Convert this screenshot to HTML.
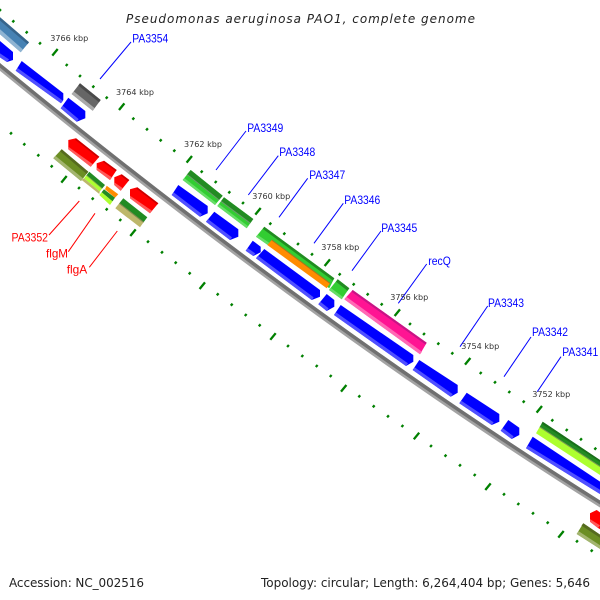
<!DOCTYPE html>
<html><head><meta charset="utf-8"><style>html,body{margin:0;padding:0;background:#fff}svg{display:block}</style></head><body>
<svg width="600" height="600" viewBox="0 0 600 600" xmlns="http://www.w3.org/2000/svg">
<rect width="600" height="600" fill="#fff"/>
<!-- backbone -->
<path d="M-8,60.5 L0,67 C200,231 400,378 600,504 L608,509" fill="none" stroke="#a3a3a3" stroke-width="6"/>
<path d="M-7.4,59.3 L0.6,65.8 C200.6,229.8 400.6,376.8 600.6,502.8 L608.6,507.8" fill="none" stroke="#707070" stroke-width="3.5"/>
<!-- ticks small -->
<path fill="none" stroke="#008000" stroke-width="2.3" d="M-0.9,11.2 l1.8,-2M12.4,22.3 l1.8,-2M25.8,33.3 l1.8,-2M39.1,44.3 l1.8,-2M65.8,66 l1.8,-2M79.1,77 l1.8,-2M92.4,87.7 l1.8,-2M105.8,98.7 l1.8,-2M132.4,119.7 l1.8,-2M146.1,130.3 l1.8,-2M159.8,141.3 l1.8,-2M173.4,151.7 l1.8,-2M200.8,172.7 l1.8,-2M214.8,183 l1.8,-2M228.4,193.3 l1.8,-2M242.1,204 l1.8,-2M269.4,224.7 l1.8,-2M283.4,234.7 l1.8,-2M297.1,245 l1.8,-2M311.1,255.3 l1.8,-2M338.8,275.3 l1.8,-2M352.8,285.3 l1.8,-2M366.8,295.3 l1.8,-2M380.8,305.3 l1.8,-2M409.1,325 l1.8,-2M423.1,335 l1.8,-2M437.4,344.7 l1.8,-2M451.4,354.3 l1.8,-2M479.8,374 l1.8,-2M494.1,383.3 l1.8,-2M508.4,393 l1.8,-2M522.8,402.7 l1.8,-2M551.4,421.3 l1.8,-2M565.8,431 l1.8,-2M580.1,440.3 l1.8,-2M594.4,449.7 l1.8,-2
M10.1,134.3 l1.8,-2M23.4,145.3 l1.8,-2M37.4,156.3 l1.8,-2M50.8,167.3 l1.8,-2M78.1,189 l1.8,-2M91.8,199.7 l1.8,-2M105.8,210.3 l1.8,-2M119.4,221 l1.8,-2M147.1,242.7 l1.8,-2M161.1,253.3 l1.8,-2M174.8,263.7 l1.8,-2M188.8,274.3 l1.8,-2M216.8,295.3 l1.8,-2M230.8,305.7 l1.8,-2M244.8,316 l1.8,-2M258.8,326.3 l1.8,-2M287.1,347 l1.8,-2M301.4,357 l1.8,-2M315.8,367 l1.8,-2M329.8,377 l1.8,-2M358.4,397.3 l1.8,-2M372.8,407.3 l1.8,-2M387.1,417.3 l1.8,-2M401.5,427 l1.8,-2M430.1,447 l1.8,-2M444.6,456.7 l1.8,-2M459.1,466.3 l1.8,-2M473.8,476 l1.8,-2M503.1,495.3 l1.8,-2M517.4,505 l1.8,-2M532.1,514.3 l1.8,-2M546.8,523.7 l1.8,-2M576.1,542.3 l1.8,-2M590.8,551.7 l1.8,-2"/>
<!-- ticks big -->
<path fill="none" stroke="#008000" stroke-width="2.3" d="M52.3,55.6 l5.4,-6.6M119,110 l5.4,-6.6M186.6,162.6 l5.4,-6.6M255.3,214.6 l5.4,-6.6M324.6,266 l5.4,-6.6M394.6,316 l5.4,-6.6M465,364.6 l5.4,-6.6M536.6,412.6 l5.4,-6.6M61.3,182.6 l5.4,-6.6M130.3,236 l5.4,-6.6M199.6,289 l5.4,-6.6M270.3,339.8 l5.4,-6.6M341,391.6 l5.4,-6.6M413.8,439.3 l5.4,-6.6M485.3,490 l5.4,-6.6M558.3,537.6 l5.4,-6.6"/>

<!-- steelblue -->
<polygon points="-5,13 29,42.3 20.7,52.3 -13,23" fill="#4682b4"/>
<polygon points="-5,13 29,42.3 27.5,44.3 -6.5,15" fill="#36648b"/>
<polygon points="-13,23 20.7,52.3 23,49.5 -10.5,20" fill="#8fb4d2"/>
<!-- gray -->
<polygon points="80,83.3 100.7,100 92.7,110.7 71.7,94" fill="#666"/>
<polygon points="80,83.3 100.7,100 99,102.2 78.3,85.5" fill="#4a4a4a"/>
<polygon points="71.7,94 92.7,110.7 94.7,108.1 73.7,91.4" fill="#aaa"/>

<!-- blue arrows -->
<g fill="#0000ff">
<polygon points="-3,38 0,41 13,52 13,60 7,62 -2,56 -8,50"/>
<polygon points="21.7,61 63.3,93.3 63.3,100 61,103.3 15.7,70.7"/>
<polygon points="68.3,97.7 85.3,111 85.3,118.3 76.7,121.7 60.7,108.3"/>
<polygon points="178.3,185 207.7,206 207.7,213.3 200,216.7 171.7,195"/>
<polygon points="214.3,211.7 238.3,229.3 238.3,236.7 230,240 206,221.7"/>
<polygon points="252.7,240.7 260.7,246.7 260.7,252.3 253.3,256 245.7,250.7"/>
<polygon points="264.3,249 320,290 320,296.7 311.7,300 256,258.3"/>
<polygon points="326.7,294 334.3,300 334.3,306.7 326.7,311 318.3,304.3"/>
<polygon points="340.7,305 413.3,355 413.3,361.7 406,366 334,315"/>
<polygon points="419.3,360 457.7,385 457.7,392.7 450.7,396.7 412.7,370"/>
<polygon points="466.7,392.7 499.3,414 499.3,421.7 491.7,425 459.3,403.3"/>
<polygon points="508.3,420 519.3,427.7 519.3,435 511.7,439 500.7,430.7"/>
<polygon points="532.7,436.7 605,485 605,495 600,494 526,448.3"/>
</g>
<g fill="#5050ff">
<polygon points="7,62 -2,56 0,53.4 9,59.4"/>
<polygon points="61,103.3 15.7,70.7 17.7,68.1 63,100.7"/>
<polygon points="76.7,121.7 60.7,108.3 62.7,105.7 78.7,119.1"/>
<polygon points="200,216.7 171.7,195 173.7,192.4 202,214.1"/>
<polygon points="230,240 206,221.7 208,219.1 232,237.4"/>
<polygon points="253.3,256 245.7,250.7 247.7,248.1 255.3,253.4"/>
<polygon points="311.7,300 256,258.3 258,255.7 313.7,297.4"/>
<polygon points="326.7,311 318.3,304.3 320.3,301.7 328.7,308.4"/>
<polygon points="406,366 334,315 336,312.4 408,363.4"/>
<polygon points="450.7,396.7 412.7,370 414.7,367.4 452.7,394.1"/>
<polygon points="491.7,425 459.3,403.3 461.3,400.7 493.7,422.4"/>
<polygon points="511.7,439 500.7,430.7 502.7,428.1 513.7,436.4"/>
<polygon points="600,494 526,448.3 528,445.7 602,491"/>
</g>

<!-- red arrows -->
<g fill="#ff0000">
<polygon points="68.3,140 76,138.3 99.3,156.7 90.7,166.7 68.3,149.3"/>
<polygon points="96.7,163.3 104,160.7 116.7,170 110,180 96.7,170"/>
<polygon points="114.3,177.3 121.7,174.3 129.3,180 120.7,190.7 114.3,185"/>
<polygon points="130,189.3 137.3,187.3 158.3,203.3 150,213.3 130,198.3"/>
<polygon points="590,513.3 596.7,510 605,516 605,532 598,528 590,521.7"/>
</g>
<g fill="#ff5a5a">
<polygon points="90.7,166.7 68.3,149.3 68.3,146.7 92.7,164.1"/>
<polygon points="110,180 96.7,170 96.7,167.4 112,177.4"/>
<polygon points="120.7,190.7 114.3,185 114.3,182.4 122.7,188.1"/>
<polygon points="150,213.3 130,198.3 130,195.7 152,210.7"/>
<polygon points="598,528 590,521.7 590,519.1 600,525.4"/>
</g>
<g fill="#cc0000">
<polygon points="76,138.3 99.3,156.7 98.3,158 75,139.6"/>
<polygon points="104,160.7 116.7,170 115.7,171.3 103,162"/>
<polygon points="121.7,174.3 129.3,180 128.3,181.3 120.7,175.6"/>
<polygon points="137.3,187.3 158.3,203.3 157.3,204.6 136.3,188.6"/>
</g>

<!-- olive -->
<polygon points="61.7,149.3 88.3,171.7 81,181 53.3,158.3" fill="#6b8e23"/>
<polygon points="61.7,149.3 88.3,171.7 86.6,173.9 60,151.3" fill="#556b1f"/>
<polygon points="53.3,158.3 81,181 83,178.4 55.3,155.7" fill="#a3b56f"/>
<polygon points="583.3,523.3 605,538 605,552 576.7,534" fill="#6b8e23"/>
<polygon points="583.3,523.3 605,538 605,541 581.5,525.6" fill="#556b1f"/>
<polygon points="576.7,534 605,552 605,548.5 578.7,531.2" fill="#a3b56f"/>

<!-- flgM cluster -->
<polygon points="89.3,171.7 105,185 102.2,188.5 86.5,175.2" fill="#228b22"/>
<polygon points="86.5,175.2 102.2,188.5 99.8,191.5 84,178.2" fill="#adff2f"/>
<polygon points="84,178.2 99.8,191.5 99.3,194 81.7,180" fill="#bdb76b"/>
<line x1="86.5" y1="175.2" x2="102.2" y2="188.5" stroke="#7a9a50" stroke-width="0.8"/>
<polygon points="106.7,185.7 118.3,194.3 115,197.7 105,189.3" fill="#ff8c00"/>
<polygon points="104,189.3 115,197.7 112.5,201.4 101.6,192.2" fill="#228b22"/>
<polygon points="101.6,192.2 112.5,201.4 110,205 99.3,195" fill="#adff2f"/>
<!-- flgA -->
<polygon points="123.3,198.3 147.3,217.3 143.6,222.3 119.3,203.3" fill="#228b22"/>
<polygon points="119.3,203.3 143.6,222.3 140,227.3 115.3,208.3" fill="#bdb76b"/>
<line x1="119.3" y1="203.3" x2="143.6" y2="222.3" stroke="#7f8a50" stroke-width="1"/>

<!-- green g1,g2 -->
<polygon points="190.7,170 222.7,195.7 215,205 182.7,180" fill="#32cd32"/>
<polygon points="190.7,170 222.7,195.7 219,200 187,174.4" fill="#228b22"/>
<polygon points="182.7,180 215,205 216.5,203 184.2,178" fill="#66dd66"/>
<line x1="187" y1="174.4" x2="219" y2="200" stroke="#6a9a6a" stroke-width="1"/>
<polygon points="224,197.3 253.3,219 246.7,228.3 217.3,206" fill="#32cd32"/>
<polygon points="224,197.3 253.3,219 250.3,223.2 221,201.3" fill="#228b22"/>
<polygon points="217.3,206 246.7,228.3 248.2,226.3 218.8,204" fill="#66dd66"/>
<line x1="221" y1="201.3" x2="250.3" y2="223.2" stroke="#6a9a6a" stroke-width="1"/>
<!-- g3 -->
<polygon points="264.3,226.7 334.3,278.3 329.3,288.3 256,236.7" fill="#32cd32"/>
<polygon points="264.3,226.7 334.3,278.3 332.8,280.5 262.8,228.9" fill="#228b22"/>
<polygon points="256,236.7 268,245 269.5,243 257.5,234.7" fill="#66dd66"/>
<polygon points="271.7,240 330,283.3 326.7,288.3 267.3,245" fill="#ff8c00"/>
<line x1="271.7" y1="240" x2="330" y2="283.3" stroke="#a8761a" stroke-width="1"/>
<!-- g4 -->
<polygon points="337.7,279.3 349.3,288.3 341.7,299.3 329,290" fill="#32cd32"/>
<polygon points="337.7,279.3 349.3,288.3 347.5,290.8 336,281.8" fill="#228b22"/>
<polygon points="329,290 341.7,299.3 343.2,297.1 330.5,287.8" fill="#66dd66"/>
<!-- pink -->
<polygon points="352.7,290 426.7,342.7 420,354.3 344.3,299.3" fill="#ff1493"/>
<polygon points="352.7,290 426.7,342.7 425.5,344.5 351.5,291.8" fill="#c71585"/>
<polygon points="344.3,299.3 420,354.3 422,351.7 346.3,296.7" fill="#ff69b4"/>
<!-- big green -->
<polygon points="542.7,421.7 605,463.3 605,469.8 539.7,426.9" fill="#228b22"/>
<polygon points="539.7,426.9 605,469.8 605,478.3 536,433.3" fill="#adff2f"/>
<polygon points="542.7,421.7 605,463.3 605,465.3 541.6,423.7" fill="#1a6f1a"/>
<line x1="539.7" y1="426.9" x2="605" y2="469.8" stroke="#7a9a50" stroke-width="1"/>

<!-- connector lines -->
<g fill="none" stroke="#0000ff" stroke-width="1">
<line x1="131" y1="42" x2="100" y2="79"/>
<line x1="246" y1="131" x2="216" y2="170"/>
<line x1="278.3" y1="155.7" x2="248.3" y2="195"/>
<line x1="307.7" y1="178.3" x2="279" y2="217.3"/>
<line x1="343.3" y1="203.3" x2="314" y2="243.3"/>
<line x1="381" y1="231" x2="352" y2="270.7"/>
<line x1="426.7" y1="264" x2="398.3" y2="303.3"/>
<line x1="487.7" y1="306" x2="460" y2="346.7"/>
<line x1="531" y1="337" x2="504" y2="376.7"/>
<line x1="561" y1="356.7" x2="537.3" y2="391.7"/>
</g>
<g fill="none" stroke="#ff0000" stroke-width="1">
<line x1="49" y1="235" x2="79.3" y2="201"/>
<line x1="68.3" y1="251.7" x2="95" y2="213.3"/>
<line x1="89.3" y1="267.3" x2="117.3" y2="231"/>
</g>

<!-- labels -->
<g font-family="'Liberation Sans',sans-serif" font-size="12" fill="#0000ff">
<text x="132.3" y="42.5" textLength="36" lengthAdjust="spacingAndGlyphs">PA3354</text>
<text x="247.3" y="132" textLength="36" lengthAdjust="spacingAndGlyphs">PA3349</text>
<text x="279.3" y="156" textLength="36" lengthAdjust="spacingAndGlyphs">PA3348</text>
<text x="309.3" y="179" textLength="36" lengthAdjust="spacingAndGlyphs">PA3347</text>
<text x="344.3" y="204" textLength="36" lengthAdjust="spacingAndGlyphs">PA3346</text>
<text x="381.3" y="232" textLength="36" lengthAdjust="spacingAndGlyphs">PA3345</text>
<text x="428.3" y="265" textLength="22.5" lengthAdjust="spacingAndGlyphs">recQ</text>
<text x="488" y="307" textLength="36" lengthAdjust="spacingAndGlyphs">PA3343</text>
<text x="532" y="336" textLength="36" lengthAdjust="spacingAndGlyphs">PA3342</text>
<text x="562.3" y="356" textLength="36" lengthAdjust="spacingAndGlyphs">PA3341</text>
</g>
<g font-family="'Liberation Sans',sans-serif" font-size="12" fill="#ff0000">
<text x="11.5" y="241.5" textLength="36.5" lengthAdjust="spacingAndGlyphs">PA3352</text>
<text x="46" y="257.5" textLength="22" lengthAdjust="spacingAndGlyphs">flgM</text>
<text x="66.7" y="273.5" textLength="20.5" lengthAdjust="spacingAndGlyphs">flgA</text>
</g>
<g font-family="'DejaVu Sans',sans-serif" font-size="8" fill="#333">
<text x="50.3" y="41" textLength="38" lengthAdjust="spacingAndGlyphs">3766 kbp</text>
<text x="116" y="95" textLength="38" lengthAdjust="spacingAndGlyphs">3764 kbp</text>
<text x="184" y="147" textLength="38" lengthAdjust="spacingAndGlyphs">3762 kbp</text>
<text x="252.3" y="199" textLength="38" lengthAdjust="spacingAndGlyphs">3760 kbp</text>
<text x="321.3" y="250" textLength="38" lengthAdjust="spacingAndGlyphs">3758 kbp</text>
<text x="390.3" y="300" textLength="38" lengthAdjust="spacingAndGlyphs">3756 kbp</text>
<text x="461.3" y="349" textLength="38" lengthAdjust="spacingAndGlyphs">3754 kbp</text>
<text x="532.3" y="397" textLength="38" lengthAdjust="spacingAndGlyphs">3752 kbp</text>
</g>
<text x="126" y="23" font-family="'DejaVu Sans',sans-serif" font-style="italic" font-size="12" fill="#222" textLength="349">Pseudomonas aeruginosa PAO1, complete genome</text>
<text x="9" y="587" font-family="'DejaVu Sans',sans-serif" font-size="12" fill="#222" textLength="135">Accession: NC_002516</text>
<text x="261" y="587" font-family="'DejaVu Sans',sans-serif" font-size="12" fill="#222" textLength="329">Topology: circular; Length: 6,264,404 bp; Genes: 5,646</text>
</svg>
</body></html>
